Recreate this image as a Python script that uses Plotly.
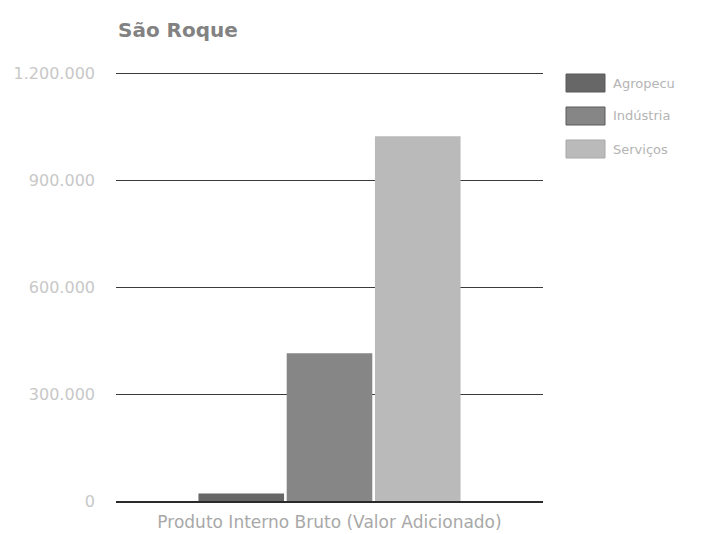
import plotly.graph_objects as go

title = "São Roque"
category = ["Produto Interno Bruto (Valor Adicionado)"]
series_names = ["Agropecuária", "Indústria", "Serviços"]
legend_labels = ["Agropecu", "Indústria", "Serviços"]
series_values = [21000, 414000, 1023000]
series_colors = ["#676767", "#868686", "#bababa"]
y_ticks = [0, 300000, 600000, 900000, 1200000]

W, H = 702, 534
L, R, T, B = 116, 159, 72, 33
PW, PH = W - L - R, H - T - B


def px_x(x):
    return (x - L) / PW


def px_y(y):
    return (H - B - y) / PH


fig = go.Figure()
for name, val, col in zip(series_names, series_values, series_colors):
    fig.add_trace(go.Bar(
        x=category, y=[val], name=name, showlegend=False,
        marker=dict(color=col, line=dict(width=0)),
    ))

# legend: large swatches with labels at the right of the plot
shapes = []
annotations = []
for i, (label, col) in enumerate(zip(legend_labels, series_colors)):
    top = 74 + i * 33
    shapes.append(dict(
        type="rect", xref="paper", yref="paper",
        x0=px_x(566), x1=px_x(605), y0=px_y(top + 18), y1=px_y(top),
        fillcolor=col, line=dict(color="#5a5a5a" if i < 2 else "#a8a8a8", width=1),
    ))
    annotations.append(dict(
        xref="paper", yref="paper", x=px_x(611), y=px_y(top + 9),
        xanchor="left", yanchor="middle", showarrow=False, text=label,
        font=dict(size=13, color="#b4b4b4", family="DejaVu Sans, sans-serif"),
    ))

fig.update_layout(
    width=W, height=H,
    margin=dict(l=L, r=R, t=T, b=B),
    paper_bgcolor="white", plot_bgcolor="white",
    separators=",.",
    barmode="group", bargap=0.38, bargroupgap=0.03,
    showlegend=False,
    font=dict(family="DejaVu Sans, sans-serif", color="#aaaaaa"),
    title=dict(text="<b>" + title + "</b>", x=118 / W, xanchor="left", y=1 - 30 / H,
               yanchor="middle",
               font=dict(size=20, color="#828282", family="DejaVu Sans, sans-serif")),
    shapes=shapes,
    annotations=annotations,
    xaxis=dict(showgrid=False, showline=True, linecolor="#2a2a2a", linewidth=1.5,
               ticks="", ticklabelstandoff=5, automargin=False,
               tickfont=dict(size=17, color="#a8a8a8")),
    yaxis=dict(range=[0, 1203000], tickvals=y_ticks, tickformat=",d",
               showgrid=True, gridcolor="#3a3a3a", gridwidth=1,
               zeroline=False, automargin=False,
               ticks="", ticklabelstandoff=20,
               tickfont=dict(size=16, color="#c8c8c8")),
)

fig.write_html("out.html")
